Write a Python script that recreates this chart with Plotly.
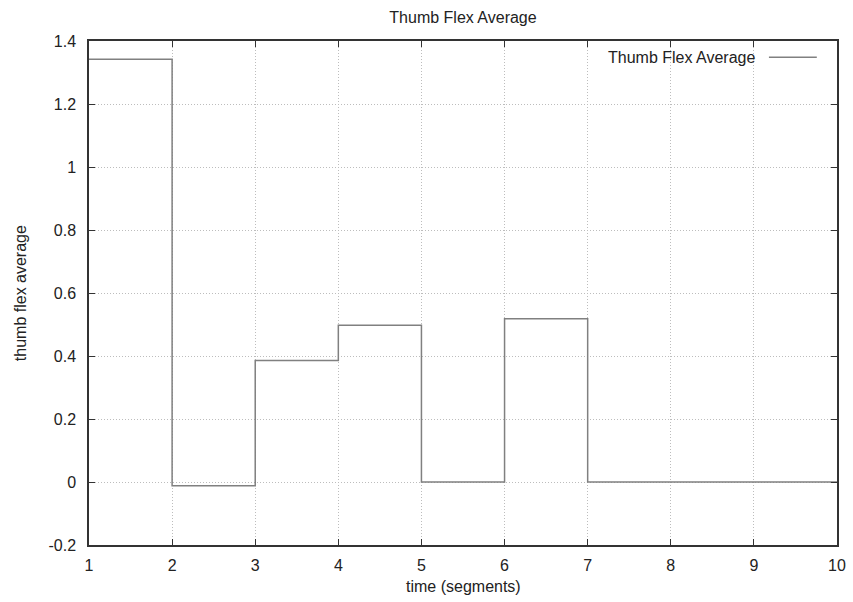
import plotly.graph_objects as go

# Segment index and the average thumb flex recorded for each segment
segments = [1, 2, 3, 4, 5, 6, 7, 8, 9, 10]
thumb_flex = [1.342, -0.012, 0.386, 0.498, 0.0, 0.518, 0.0, 0.0, 0.0, 0.0]

x_ticks = [1, 2, 3, 4, 5, 6, 7, 8, 9, 10]
y_ticks = [-0.2, 0, 0.2, 0.4, 0.6, 0.8, 1, 1.2, 1.4]
y_tick_text = ["-0.2", "0", "0.2", "0.4", "0.6", "0.8", "1", "1.2", "1.4"]

FONT = "Liberation Sans, Arial, sans-serif"
TEXT = dict(family=FONT, size=16, color="#222222")

fig = go.Figure()
fig.add_trace(go.Scatter(
    x=segments, y=thumb_flex, mode="lines", line_shape="hv",
    line=dict(color="#808080", width=1.5), name="Thumb Flex Average",
    showlegend=False,
))

axis_common = dict(
    showline=True, linecolor="#333333", linewidth=1.5, mirror="allticks",
    ticks="inside", ticklen=6, tickcolor="#333333", tickwidth=1,
    showgrid=True, gridcolor="#bdbdbd", griddash="1px,2px", gridwidth=1,
    zeroline=False, tickfont=TEXT, automargin=False,
)

fig.update_layout(
    width=853, height=602,
    margin=dict(l=89, r=16, t=41, b=57),
    plot_bgcolor="white", paper_bgcolor="white",
    title=dict(text="Thumb Flex Average", xref="paper", x=0.5, xanchor="center",
               y=1 - 17 / 602, yanchor="middle", font=TEXT),
    xaxis=dict(range=[1, 10], tickvals=x_ticks, ticktext=[str(t) for t in x_ticks],
               ticklabelstandoff=5, **axis_common),
    yaxis=dict(range=[-0.2, 1.4], tickvals=y_ticks, ticktext=y_tick_text,
               ticklabelstandoff=8, **axis_common),
)

# Axis titles
fig.add_annotation(
    xref="paper", yref="paper", x=0.5, y=-0.083, xanchor="center", yanchor="middle",
    text="time (segments)", showarrow=False, font=TEXT,
)
fig.add_annotation(
    xref="paper", yref="paper", x=-0.092, y=0.5, xanchor="center", yanchor="middle",
    text="thumb flex average", textangle=-90, showarrow=False, font=TEXT,
)

# Key in the upper right: label followed by a line sample
fig.add_annotation(
    xref="paper", yref="paper", x=0.893, y=0.968, xanchor="right", yanchor="middle",
    text="Thumb Flex Average", showarrow=False, font=TEXT,
)
fig.add_shape(
    type="line", xref="paper", yref="paper", x0=0.909, x1=0.973, y0=0.968, y1=0.968,
    line=dict(color="#808080", width=1.5),
)

fig.write_html("out.html")
